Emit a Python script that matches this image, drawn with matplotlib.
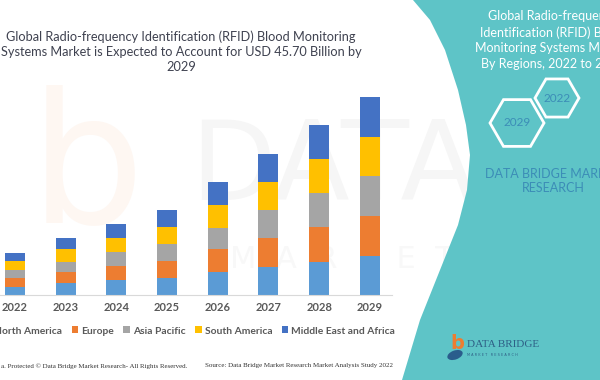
import numpy as np
import matplotlib.pyplot as plt
from matplotlib.patches import Polygon, RegularPolygon, Ellipse

years = ["2022", "2023", "2024", "2025", "2026", "2027", "2028", "2029"]
regions = ["North America", "Europe", "Asia Pacific", "South America", "Middle East and Africa"]
north_america = [1.92, 2.70, 3.46, 3.85, 5.31, 6.53, 7.69, 9.07]
europe = [1.92, 2.70, 3.30, 4.08, 5.24, 6.53, 7.92, 9.16]
asia_pacific = [1.92, 2.31, 3.07, 3.76, 5.01, 6.53, 8.01, 9.23]
south_america = [2.08, 2.84, 3.23, 3.92, 5.24, 6.53, 7.69, 9.07]
mea = [1.92, 2.54, 3.30, 3.99, 5.38, 6.53, 7.92, 9.23]
colors = ["#5B9BD5", "#ED7D31", "#A5A5A5", "#FFC000", "#4472C4"]

W, H = 600, 380
fig = plt.figure(figsize=(6, 3.8), dpi=100)

# back layer: faint watermark
back = fig.add_axes([0, 0, 1, 1], zorder=0)
back.set_xlim(0, W)
back.set_ylim(H, 0)
back.axis("off")
back.text(190, 200, "DATA", fontsize=80, color="#f6f6f6",
          family=["Liberation Sans Narrow", "DejaVu Sans"], va="baseline", ha="left")
back.text(30, 222, "b", fontsize=130, color="#fef7f2", va="baseline")
back.text(230, 268, "M  A  R  K  E  T", fontsize=22, color="#f8f8f8", va="baseline")

# chart
x = np.arange(len(years))
ax = fig.add_axes([0, 85 / H, 392 / W, 200 / H], zorder=1)
ax.patch.set_alpha(0)
bottom = np.zeros(len(years))
for name, vals, c in zip(regions, [north_america, europe, asia_pacific, south_america, mea], colors):
    ax.bar(x, vals, width=0.39, bottom=bottom, color=c, label=name)
    bottom += np.array(vals)
ax.set_xlim(-0.296, 7.44)
ax.set_ylim(0, 46.2)
for s in ["top", "right", "left"]:
    ax.spines[s].set_visible(False)
ax.spines["bottom"].set_color("#d9d9d9")
ax.set_yticks([])
ax.set_xticks(x)
ax.set_xticklabels(years, fontsize=8, fontweight="bold", color="#595959", family="Lato")
ax.tick_params(axis="x", length=0, pad=5)

leg = fig.legend(loc="center", bbox_to_anchor=(190 / W, 1 - 331 / H), ncol=5, frameon=False,
                 prop={"family": "Lato", "weight": "bold", "size": 7.4}, handlelength=0.65,
                 handleheight=0.65, handletextpad=0.3, columnspacing=0.9)
for t in leg.get_texts():
    t.set_color("#595959")

# front layer: titles, teal panel
front = fig.add_axes([0, 0, 1, 1], zorder=2)
front.patch.set_alpha(0)
front.set_xlim(0, W)
front.set_ylim(H, 0)
front.axis("off")

front.text(181, 52, "Global Radio-frequency Identification (RFID) Blood Monitoring\n"
           "Systems Market is Expected to Account for USD 45.70 Billion by\n2029",
           ha="center", va="center", fontsize=9.2, color="#3f4250", family="Lato", linespacing=1.3)

edge = [(413, 0), (430, 20), (445, 50), (458, 90), (466, 125), (470, 155), (467, 190),
        (458, 225), (440, 270), (420, 320), (402, 380), (600, 380), (600, 0)]
front.add_patch(Polygon(edge, closed=True, facecolor="#5EC4C7", edgecolor="none"))

front.text(553, 40, "Global Radio-frequency\nIdentification (RFID) Blood\nMonitoring Systems Market,\n"
           "By Regions, 2022 to 2029", ha="center", va="center", fontsize=9, color="white",
           family="Lato", linespacing=1.35)

front.add_patch(RegularPolygon((557, 98), 6, radius=22, orientation=np.pi / 6,
                               facecolor="none", edgecolor="white", lw=2))
front.add_patch(RegularPolygon((517, 123), 6, radius=27, orientation=np.pi / 6,
                               facecolor="none", edgecolor="white", lw=2))
front.text(557, 98, "2022", ha="center", va="center", fontsize=8.5, color="#3c8db7", family="Lato")
front.text(517, 123, "2029", ha="center", va="center", fontsize=8.5, color="#3c8db7", family="Lato")

front.text(553, 181, "DATA BRIDGE MARKET\nRESEARCH", ha="center", va="center", fontsize=9,
           color="#3c8db7", family="Lato", linespacing=1.25)

# logo
front.add_patch(Ellipse((455, 355), 16, 9, angle=-20, facecolor="#2a5d8c", edgecolor="none"))
front.text(457, 349, "b", ha="center", va="baseline", fontsize=14, fontweight="bold", color="#ED7D31")
front.text(467, 347, "DATA BRIDGE", ha="left", va="baseline", fontsize=8, color="#2e5f86",
           family="Liberation Serif")
front.text(467, 356, "M A R K E T   R E S E A R C H", ha="left", va="baseline", fontsize=2.5,
           color="#2e5f86")

# footers
front.text(1, 366, "a. Protected \u00a9 Data Bridge Market Research- All Rights Reserved.",
           ha="left", va="center", fontsize=5, color="#333333", family="Liberation Serif")
front.text(205, 366, "Source: Data Bridge Market Research Market Analysis Study 2022",
           ha="left", va="center", fontsize=5, color="#333333", family="Liberation Serif")

fig.savefig("out.png", dpi=100)
